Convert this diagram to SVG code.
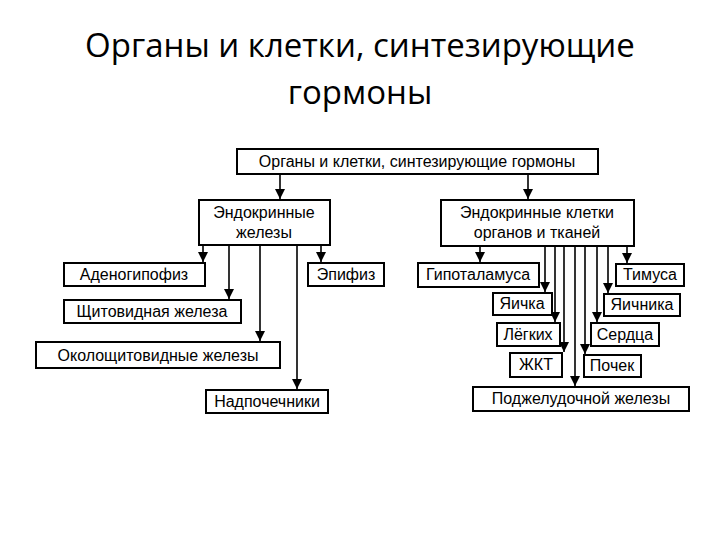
<svg xmlns="http://www.w3.org/2000/svg" width="720" height="540" viewBox="0 0 720 540">
<defs><marker id="a" markerWidth="10" markerHeight="10" refX="10" refY="5" orient="auto" markerUnits="userSpaceOnUse" viewBox="0 0 10 10"><path d="M0,0 L10,5 L0,10 Z" fill="#000"/></marker>
<style>
.b{fill:#fff;stroke:#000;stroke-width:2}
.t{font-family:"Liberation Sans",Arial,sans-serif;font-size:16px;text-anchor:middle;fill:#000}
.h{font-family:"Open Sans","Liberation Sans",sans-serif;font-size:33px;text-anchor:middle;fill:#000}
.c line{stroke:#000;stroke-width:1.6;marker-end:url(#a)}
</style></defs>
<rect width="720" height="540" fill="#fff"/>
<text class="h" x="360" y="57">Органы и клетки, синтезирующие</text>
<text class="h" x="360" y="104">гормоны</text>
<g class="c">
<line x1="280" y1="174" x2="280" y2="199"/>
<line x1="528" y1="174" x2="528" y2="199"/>
<line x1="203" y1="245" x2="203" y2="262"/>
<line x1="229" y1="245" x2="229" y2="299"/>
<line x1="260" y1="245" x2="260" y2="341"/>
<line x1="297" y1="245" x2="297" y2="389"/>
<line x1="321" y1="245" x2="321" y2="262"/>
<line x1="480" y1="246" x2="480" y2="262"/>
<line x1="545" y1="246" x2="545" y2="292"/>
<line x1="555" y1="246" x2="555" y2="322"/>
<line x1="564" y1="246" x2="564" y2="352"/>
<line x1="575" y1="246" x2="575" y2="386"/>
<line x1="585" y1="246" x2="585" y2="354"/>
<line x1="597" y1="246" x2="597" y2="322"/>
<line x1="608" y1="246" x2="608" y2="293"/>
<line x1="627" y1="246" x2="627" y2="263"/>
</g>
<g id="root"><rect class="b" x="237" y="149" width="361" height="25"/><text class="t" x="417" y="167">Органы и клетки, синтезирующие гормоны</text></g>
<g id="endo"><rect class="b" x="199" y="200" width="131" height="45"/><text class="t" x="264" y="218">Эндокринные</text><text class="t" x="264" y="238">железы</text></g>
<g id="cells"><rect class="b" x="441" y="200" width="193" height="46"/><text class="t" x="537" y="218">Эндокринные клетки</text><text class="t" x="537" y="238">органов и тканей</text></g>
<g id="adeno"><rect class="b" x="64" y="263" width="141" height="23"/><text class="t" x="134" y="280">Аденогипофиз</text></g>
<g id="thyr"><rect class="b" x="64" y="300" width="177" height="23"/><text class="t" x="152" y="317">Щитовидная железа</text></g>
<g id="para"><rect class="b" x="36" y="342" width="244" height="26"/><text class="t" x="158" y="361">Околощитовидные железы</text></g>
<g id="adren"><rect class="b" x="206" y="390" width="122" height="23"/><text class="t" x="267" y="407">Надпочечники</text></g>
<g id="epi"><rect class="b" x="308" y="263" width="76" height="23"/><text class="t" x="346" y="280">Эпифиз</text></g>
<g id="hypo"><rect class="b" x="418" y="263" width="121" height="24"/><text class="t" x="478" y="280">Гипоталамуса</text></g>
<g id="thym"><rect class="b" x="616" y="264" width="68" height="22"/><text class="t" x="650" y="280">Тимуса</text></g>
<g id="test"><rect class="b" x="493" y="293" width="59" height="22"/><text class="t" x="522" y="309">Яичка</text></g>
<g id="ovar"><rect class="b" x="604" y="294" width="76" height="22"/><text class="t" x="642" y="310">Яичника</text></g>
<g id="lung"><rect class="b" x="497" y="323" width="63" height="23"/><text class="t" x="528" y="340">Лёгких</text></g>
<g id="heart"><rect class="b" x="591" y="323" width="68" height="23"/><text class="t" x="625" y="340">Сердца</text></g>
<g id="gi"><rect class="b" x="510" y="353" width="52" height="24"/><text class="t" x="536" y="370">ЖКТ</text></g>
<g id="kid"><rect class="b" x="584" y="355" width="57" height="22"/><text class="t" x="612" y="371">Почек</text></g>
<g id="panc"><rect class="b" x="473" y="387" width="216" height="24"/><text class="t" x="581" y="404">Поджелудочной железы</text></g>
</svg>
